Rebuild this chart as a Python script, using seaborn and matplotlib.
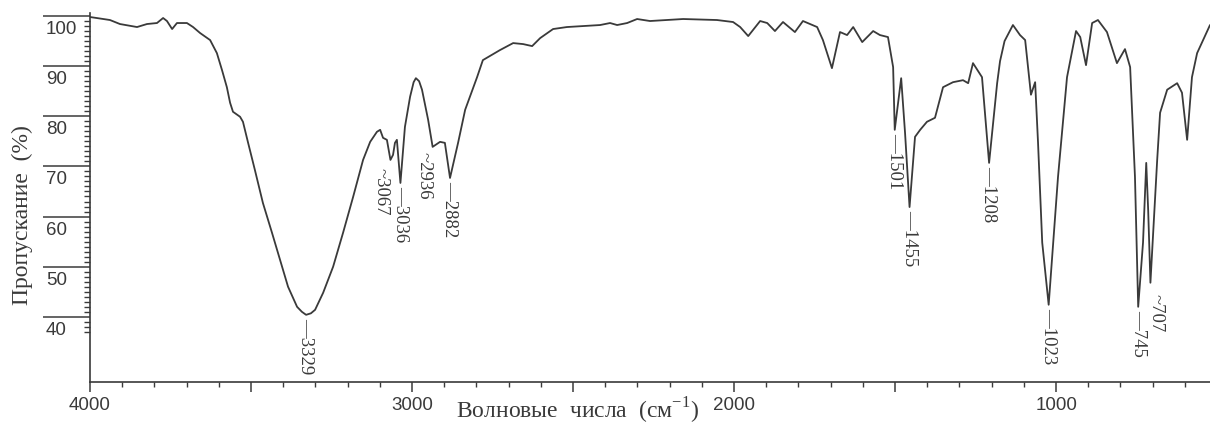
import matplotlib
matplotlib.use("Agg")
import matplotlib.pyplot as plt
import matplotlib.transforms as mtransforms
from matplotlib.ticker import FixedLocator, MultipleLocator, FuncFormatter
import numpy as np
import pandas as pd
import seaborn as sns

# IR spectrum (wavenumber in cm-1, transmittance in %)
wavenumber = [4000, 3938, 3907, 3854, 3823, 3792, 3773, 3761, 3745, 3730,
              3699, 3680, 3658, 3627, 3606, 3590, 3575, 3565, 3556, 3534,
              3525, 3509, 3488, 3463, 3435, 3410, 3385, 3357, 3342, 3329,
              3314, 3301, 3276, 3245, 3214, 3183, 3152, 3130, 3109, 3099,
              3090, 3078, 3067, 3059, 3053, 3047, 3036, 3022, 3006, 2995,
              2988, 2978, 2969, 2950, 2936, 2913, 2898, 2882, 2857, 2835,
              2798, 2780, 2727, 2686, 2655, 2627, 2602, 2562, 2519, 2469,
              2416, 2385, 2363, 2332, 2301, 2261, 2158, 2053, 2003, 1981,
              1956, 1919, 1897, 1873, 1848, 1811, 1786, 1742, 1724, 1696,
              1671, 1649, 1630, 1602, 1568, 1547, 1522, 1506, 1501, 1481,
              1469, 1455, 1438, 1422, 1401, 1376, 1351, 1320, 1289, 1273,
              1258, 1230, 1208, 1183, 1174, 1160, 1134, 1112, 1096, 1078,
              1065, 1056, 1043, 1023, 994, 966, 938, 925, 907, 888,
              870, 842, 811, 786, 770, 755, 745, 730, 720, 714,
              707, 686, 677, 655, 624, 609, 593, 578, 562, 522]
transmittance = [99.8, 99.2, 98.4, 97.8, 98.4, 98.6, 99.6, 99.0, 97.4, 98.6,
                 98.6, 97.8, 96.6, 95.2, 92.6, 89.2, 85.8, 82.7, 80.9, 79.9,
                 78.9, 74.7, 69.3, 62.7, 56.8, 51.4, 46.0, 42.0, 41.0, 40.4,
                 40.7, 41.4, 44.8, 50.0, 56.8, 63.9, 71.3, 74.9, 76.9, 77.3,
                 75.7, 75.3, 71.3, 72.3, 74.7, 75.3, 66.7, 77.9, 83.9, 86.8,
                 87.6, 87.0, 85.3, 79.3, 73.9, 74.9, 74.7, 67.7, 74.7, 81.3,
                 87.8, 91.2, 93.2, 94.6, 94.4, 94.0, 95.6, 97.4, 97.8, 98.0,
                 98.2, 98.6, 98.2, 98.6, 99.4, 99.0, 99.4, 99.2, 98.8, 97.8,
                 96.0, 99.0, 98.6, 97.0, 98.8, 96.8, 99.0, 97.8, 95.2, 89.6,
                 96.8, 96.2, 97.8, 94.8, 97.0, 96.2, 95.8, 89.8, 77.3, 87.6,
                 76.7, 61.9, 75.9, 77.3, 78.9, 79.7, 85.8, 86.8, 87.2, 86.6,
                 90.6, 87.8, 70.7, 86.6, 91.0, 95.0, 98.2, 96.2, 95.2, 84.3,
                 86.8, 74.7, 54.8, 42.4, 67.9, 87.8, 97.0, 95.8, 90.2, 98.6,
                 99.2, 96.8, 90.6, 93.4, 89.8, 67.9, 42.0, 54.8, 70.7, 61.3,
                 46.8, 71.3, 80.7, 85.3, 86.6, 84.7, 75.3, 87.8, 92.6, 98.2]

peak_labels = ['3329', '3067', '3036', '2936', '2882',
               '1501', '1455', '1208', '1023', '745', '707']
peak_wn = [3329, 3067, 3036, 2936, 2882, 1501, 1455, 1208, 1023, 745, 707]

df = pd.DataFrame({'wn': wavenumber, 'T': transmittance})

sns.set_style("white")
plt.rcParams['font.family'] = ['Liberation Sans', 'DejaVu Sans']
plt.rcParams['mathtext.fontset'] = 'custom'
plt.rcParams['mathtext.rm'] = 'Liberation Serif'

ink = '#3a3a3a'
fig = plt.figure(figsize=(12.1, 4.25), dpi=100)
ax = fig.add_axes([90 / 1210, 43 / 425, 1120 / 1210, 369 / 425])

sns.lineplot(data=df, x='wn', y='T', ax=ax, color=ink, linewidth=1.3,
             estimator=None, sort=False)

ax.set_xlim(4000, 522)
ax.set_ylim(27.0, 100.6)

for s in ['top', 'right']:
    ax.spines[s].set_visible(False)
for s in ['left', 'bottom']:
    ax.spines[s].set_color(ink)
    ax.spines[s].set_linewidth(1.2)

# x axis ticks
ax.xaxis.set_major_locator(MultipleLocator(500))
ax.xaxis.set_minor_locator(MultipleLocator(100))
ax.xaxis.set_major_formatter(FuncFormatter(lambda v, p: f'{int(v)}' if v % 1000 == 0 else ''))
ax.tick_params(axis='x', which='major', length=7, width=1.1, color=ink, pad=4,
               labelsize=13.5, labelcolor=ink, direction='out', bottom=True)
ax.tick_params(axis='x', which='minor', length=3.5, width=1.0, color=ink,
               direction='out', bottom=True)

# y axis ticks: long major ticks with the number under each line
ax.yaxis.set_major_locator(FixedLocator([40, 50, 60, 70, 80, 90, 100]))
ax.yaxis.set_minor_locator(FixedLocator(np.arange(37, 101, 1)))
ax.tick_params(axis='y', which='major', length=34, width=1.1, color=ink, pad=-2.3,
               labelsize=13.5, labelcolor=ink, direction='out', left=True)
ax.tick_params(axis='y', which='minor', length=4, width=1.0, color=ink,
               direction='out', left=True)
shift = mtransforms.ScaledTranslation(0, -0.115, fig.dpi_scale_trans)
for lbl in ax.get_yticklabels():
    lbl.set_horizontalalignment('left')
    lbl.set_transform(lbl.get_transform() + shift)

ax.set_xlabel('')
ax.set_ylabel('')
fig.text(577 / 1210, 1 - 411 / 425, 'Волновые  числа  (см$^{-1}$)', ha='center', va='center',
         family='Liberation Serif', fontsize=17, color=ink)
fig.text(22 / 1210, 1 - 215 / 425, 'Пропускание  (%)', ha='center', va='center',
         rotation=90, family='Liberation Serif', fontsize=17, color=ink)

# peak labels hanging under the minima
offsets = {'3067': (-7, -6, '~'), '2936': (-6, -4, '~'), '707': (4, -8, '~')}
lookup = dict(zip(wavenumber, transmittance))
for lab, wn in zip(peak_labels, peak_wn):
    dx, dy, lead = offsets.get(lab, (0, -2, '—'))
    ax.annotate(lead + lab, xy=(wn, lookup[wn]), xytext=(dx, dy),
                textcoords='offset points', rotation=-90, ha='center', va='top',
                family='Liberation Serif', fontsize=13.5, color=ink)

fig.savefig('out.png', dpi=100, facecolor='white')
